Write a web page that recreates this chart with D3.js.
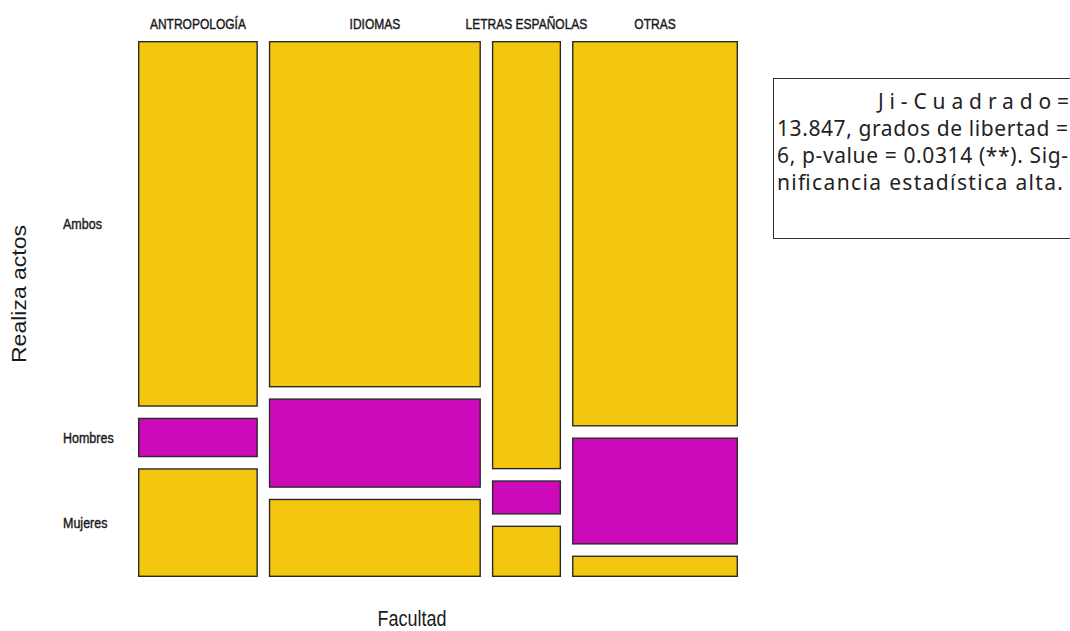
<!DOCTYPE html>
<html><head><meta charset="utf-8">
<script src="https://cdn.jsdelivr.net/npm/d3@7"></script>
<style>html,body{margin:0;padding:0;background:#fff;} svg{display:block;}</style>
</head><body><svg id="chart" width="1070" height="631"></svg>
<script>
// Contingency table: Facultad x "Realiza actos"
const faculties = ["ANTROPOLOGÍA", "IDIOMAS", "LETRAS ESPAÑOLAS", "OTRAS"];
const groups = ["Ambos", "Hombres", "Mujeres"];
const ambos   = [37, 62, 25, 54];
const hombres = [4, 16, 2, 15];
const mujeres = [11, 14, 3, 3];
const groupColours = ["#F4C70F", "#CC0ABA", "#F4C70F"];
const noteLines = [
  "Ji-Cuadrado=",
  "13.847, grados de libertad =",
  "6, p-value = 0.0314 (**). Sig-",
  "nificancia estadística alta."
];

const svg = d3.select("#chart");
const plot = {left: 138, right: 738, top: 41, bottom: 577, gap: 11};
const rFont = "'Liberation Sans', Arial, sans-serif";
const ink = "#1a1a1a";

const counts = faculties.map((f, i) => [ambos[i], hombres[i], mujeres[i]]);
const colTotals = counts.map(c => d3.sum(c));
const grand = d3.sum(colTotals);

// Horizontal split: column widths proportional to faculty totals
const xw = d3.scaleLinear().domain([0, grand])
  .range([0, (plot.right - plot.left) - plot.gap * (faculties.length - 1)]);

const cells = [];
let cum = 0;
faculties.forEach((f, i) => {
  const x0 = plot.left + xw(cum) + plot.gap * i;
  const w = xw(colTotals[i]);
  cum += colTotals[i];
  // Vertical split inside each column
  const yh = d3.scaleLinear().domain([0, colTotals[i]])
    .range([0, (plot.bottom - plot.top) - plot.gap * (groups.length - 1)]);
  let ycum = 0;
  groups.forEach((g, j) => {
    const y0 = plot.top + yh(ycum) + plot.gap * j;
    const h = yh(counts[i][j]);
    ycum += counts[i][j];
    cells.push({f, g, i, j, x: x0, y: y0, w, h});
  });
});

svg.append("g").selectAll("rect").data(cells).join("rect")
  .attr("x", d => d.x + 0.7).attr("y", d => d.y + 0.7)
  .attr("width", d => d.w - 1.4).attr("height", d => d.h - 1.4)
  .attr("fill", d => groupColours[d.j])
  .attr("stroke", "#2a2a2a").attr("stroke-width", 1.4);

// Slightly heavier strokes for the plot's own labels
function heavy(sel) {
  return sel.attr("font-family", rFont).attr("fill", ink)
    .attr("stroke", ink).attr("stroke-width", 0.35);
}

// Column labels
const firstRow = cells.filter(d => d.j === 0);
svg.append("g").selectAll("g").data(firstRow).join("g")
  .attr("transform", d => `translate(${d.x + d.w / 2},29) scale(1,1.25)`)
  .append("text")
  .attr("text-anchor", "middle").attr("font-size", 12)
  .call(heavy)
  .text(d => d.f);

// Row labels, centred on the first column's cells
const firstCol = cells.filter(d => d.i === 0);
svg.append("g").selectAll("g").data(firstCol).join("g")
  .attr("transform", d => `translate(63,${d.y + d.h / 2}) scale(1,1.2)`)
  .append("text")
  .attr("dy", "0.35em").attr("font-size", 12.5)
  .call(heavy)
  .text(d => d.g);

// Axis titles
svg.append("g").attr("transform", "translate(412,626) scale(1,1.2)")
  .append("text").attr("text-anchor", "middle").attr("font-size", 18)
  .attr("font-family", rFont).attr("fill", ink)
  .text("Facultad");

svg.append("g").attr("transform", "translate(26,294) scale(1,1.15) rotate(-90)")
  .append("text").attr("text-anchor", "middle").attr("font-size", 20)
  .attr("font-family", rFont).attr("fill", ink)
  .text("Realiza actos");

// Statistics note box (justified paragraph, running off the right edge)
svg.append("rect")
  .attr("x", 773.5).attr("y", 78.5).attr("width", 330).attr("height", 160)
  .attr("fill", "#fff").attr("stroke", "#333").attr("stroke-width", 1);

const note = svg.append("g")
  .attr("font-family", "'Noto Sans', 'Open Sans', sans-serif")
  .attr("font-size", 21).attr("fill", "#222");

const lineSpec = [
  {x: 878, end: 1069, y: 109},
  {x: 777, end: 1068, y: 136},
  {x: 777, end: 1068, y: 163},
  {x: 777, end: 1063, y: 190}
];
noteLines.forEach((t, k) => {
  const s = lineSpec[k];
  note.append("text").attr("x", s.x).attr("y", s.y)
    .attr("textLength", s.end - s.x).attr("lengthAdjust", "spacing")
    .text(t);
});
</script>
</body></html>
